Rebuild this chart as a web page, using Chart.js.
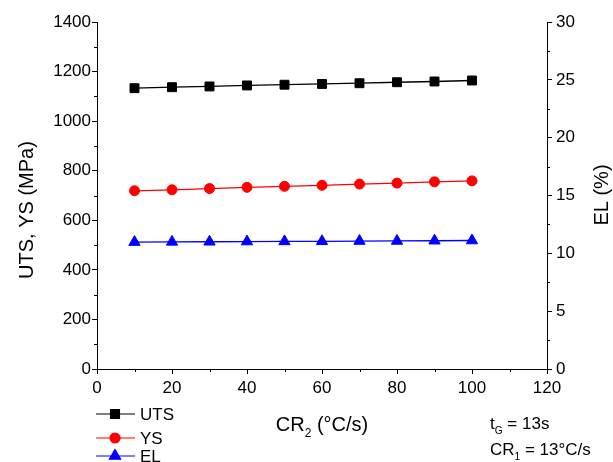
<!DOCTYPE html>
<html>
<head>
<meta charset="utf-8">
<script src="https://cdn.jsdelivr.net/npm/chart.js@4"></script>
<style>
  body { margin: 0; background: #fff; }
  #wrap { width: 613px; height: 462px; }
</style>
</head>
<body>
<div id="wrap"><canvas id="grafico" width="613" height="462"></canvas></div>
<script>
// === Dados ===
const cr2 = [10, 20, 30, 40, 50, 60, 70, 80, 90, 100];
const uts = [1133, 1137, 1140, 1144, 1147, 1150, 1153, 1157, 1160, 1164];
const ys = [719, 723, 728, 733, 737, 741, 746, 750, 755, 759];
const el = [10.97, 10.99, 11.0, 11.02, 11.03, 11.04, 11.06, 11.07, 11.09, 11.11];

const fonte = "'Liberation Sans', Arial, sans-serif";

function pares(xs, vs) {
    return xs.map((x, i) => ({ x: x, y: vs[i] }));
}

// desenha texto com subscrito: partes = [[texto, sub?], ...]
function textoComSub(ctx, partes, x, y, tam, alinhar) {
    let total = 0;
    partes.forEach(p => {
        ctx.font = (p[1] ? tam * 0.6 : tam) + "px " + fonte;
        total += ctx.measureText(p[0]).width;
    });
    let cx = alinhar === "center" ? x - total / 2 : x;
    ctx.textAlign = "left";
    ctx.textBaseline = "alphabetic";
    partes.forEach(p => {
        ctx.font = (p[1] ? tam * 0.6 : tam) + "px " + fonte;
        ctx.fillText(p[0], cx, p[1] ? y + tam * 0.3 : y);
        cx += ctx.measureText(p[0]).width;
    });
}

// === Plugin: ticks menores, legenda, títulos ===
const extras = {
    id: "extras",
    afterDraw(chart) {
        const ctx = chart.ctx;
        const area = chart.chartArea;
        const sx = chart.scales.x, sy = chart.scales.y, sy1 = chart.scales.y1;
        ctx.save();
        ctx.strokeStyle = "#000";
        ctx.lineWidth = 1;
        ctx.beginPath();
        for (let v = 10; v < 120; v += 20) {
            const px = Math.round(sx.getPixelForValue(v)) + 0.5;
            ctx.moveTo(px, area.bottom); ctx.lineTo(px, area.bottom + 3);
        }
        for (let v = 100; v < 1400; v += 200) {
            const py = Math.round(sy.getPixelForValue(v)) + 0.5;
            ctx.moveTo(area.left, py); ctx.lineTo(area.left - 3, py);
        }
        for (let v = 2.5; v < 30; v += 5) {
            const py = Math.round(sy1.getPixelForValue(v)) + 0.5;
            ctx.moveTo(area.right, py); ctx.lineTo(area.right + 3, py);
        }
        ctx.stroke();

        ctx.fillStyle = "#000";
        // título eixo x
        textoComSub(ctx, [["CR", false], ["2", true], [" (°C/s)", false]], (area.left + area.right) / 2, 431, 20, "center");

        // título eixo y esquerdo
        ctx.save();
        ctx.translate(33, 210);
        ctx.rotate(-Math.PI / 2);
        ctx.font = "20px " + fonte;
        ctx.textAlign = "center";
        ctx.fillText("UTS, YS (MPa)", 0, 0);
        ctx.restore();

        // título eixo y direito
        ctx.save();
        ctx.translate(608, 195);
        ctx.rotate(-Math.PI / 2);
        ctx.font = "20px " + fonte;
        ctx.textAlign = "center";
        ctx.fillText("EL (%)", 0, 0);
        ctx.restore();

        // anotações
        textoComSub(ctx, [["t", false], ["G", true], [" = 13s", false]], 490, 429, 17, "left");
        textoComSub(ctx, [["CR", false], ["1", true], [" = 13°C/s", false]], 490, 455, 17, "left");

        // legenda
        const linhas = [414, 438, 456];
        chart.data.datasets.forEach((ds, i) => {
            const y = linhas[i];
            ctx.strokeStyle = ds.borderColor;
            ctx.lineWidth = 1.2;
            ctx.beginPath();
            ctx.moveTo(96, y); ctx.lineTo(135, y);
            ctx.stroke();
            ctx.fillStyle = ds.pointBackgroundColor;
            ctx.strokeStyle = ds.borderColor;
            Chart.helpers.drawPoint(ctx, { pointStyle: ds.pointStyle, radius: ds.pointRadius, rotation: 0, borderWidth: 1 }, 115, y);
            ctx.fillStyle = "#000";
            ctx.font = "17px " + fonte;
            ctx.textAlign = "left";
            ctx.textBaseline = "middle";
            ctx.fillText(ds.label, 140, y + 1);
        });
        ctx.restore();
    }
};

const eixoBase = {
    grid: { display: true, drawOnChartArea: false, drawTicks: true, tickLength: 5, color: "#000", tickColor: "#000" },
    border: { display: true, color: "#000", width: 1 },
    ticks: { color: "#000", font: { family: fonte, size: 17 }, padding: 2, callback: v => String(v) }
};

const grafico = new Chart(document.getElementById("grafico"), {
    type: "line",
    data: {
        datasets: [
            { label: "UTS", data: pares(cr2, uts), yAxisID: "y", borderColor: "#000000", pointBackgroundColor: "#000000", pointStyle: "rect", pointRadius: 6.3, borderWidth: 1.3, pointBorderWidth: 1, tension: 0 },
            { label: "YS", data: pares(cr2, ys), yAxisID: "y", borderColor: "#ff0000", pointBackgroundColor: "#ff0000", pointStyle: "circle", pointRadius: 5, borderWidth: 1.3, pointBorderWidth: 1, tension: 0 },
            { label: "EL", data: pares(cr2, el), yAxisID: "y1", borderColor: "#0000ff", pointBackgroundColor: "#0000ff", pointStyle: "triangle", pointRadius: 6.5, borderWidth: 1.3, pointBorderWidth: 1, tension: 0 }
        ]
    },
    options: {
        responsive: false,
        animation: false,
        layout: { padding: { top: 22, left: 0, right: 0, bottom: 0 } },
        plugins: { legend: { display: false }, tooltip: { enabled: false } },
        scales: {
            x: {
                ...eixoBase,
                type: "linear", min: 0, max: 120,
                ticks: { ...eixoBase.ticks, stepSize: 20, padding: 4 },
                afterFit: s => { s.height = 93; }
            },
            y: {
                ...eixoBase,
                position: "left", min: 0, max: 1400,
                ticks: { ...eixoBase.ticks, stepSize: 200, padding: 1 },
                afterFit: s => { s.width = 97; }
            },
            y1: {
                ...eixoBase,
                position: "right", min: 0, max: 30,
                ticks: { ...eixoBase.ticks, stepSize: 5, padding: 4 },
                afterFit: s => { s.width = 66; }
            }
        }
    },
    plugins: [extras]
});
</script>
</body>
</html>
